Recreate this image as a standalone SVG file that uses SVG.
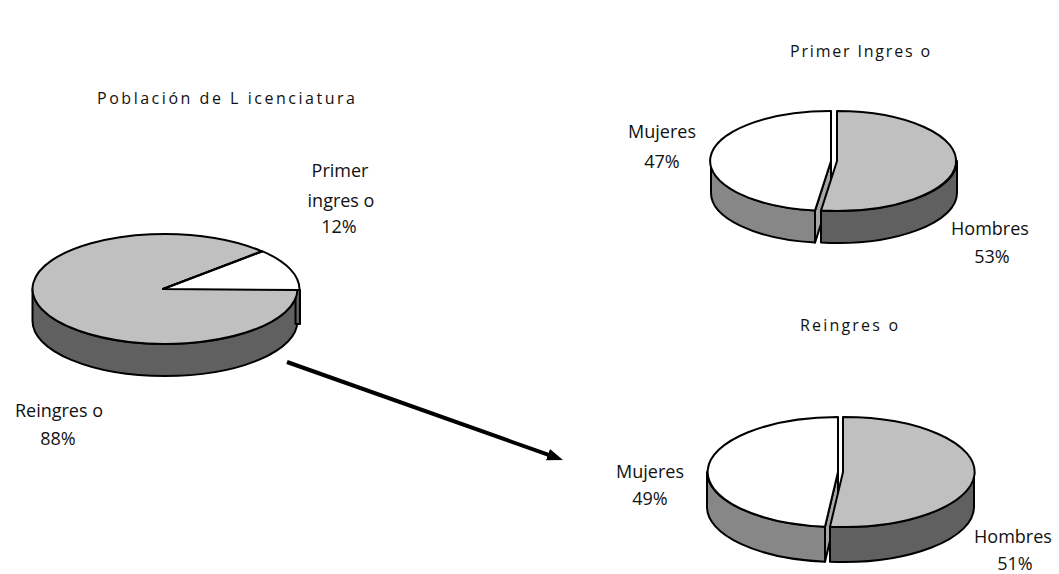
<svg xmlns="http://www.w3.org/2000/svg" width="1059" height="574" viewBox="0 0 1059 574">
<style>
text{font-family:"Open Sans","Noto Sans","DejaVu Sans",sans-serif;font-size:18px;fill:#111;text-anchor:middle}
.title{font-size:16px;text-anchor:start}
.pie path,.pie rect{stroke:#000;stroke-width:2;stroke-linejoin:round}
.g{fill:#c0c0c0}.w{fill:#fff}.ds{fill:#606060}.ms{fill:#878787}.cut{fill:#a6a6a6}
</style>
<defs>
<marker id="ah" markerUnits="userSpaceOnUse" viewBox="0 0 16 12" refX="6" refY="6" markerWidth="16" markerHeight="12" orient="auto">
<polygon points="0,0 16,6 0,12" fill="#000"/>
</marker>
</defs>
<g id="title-left"><text class="title" x="97" y="104" textLength="258" lengthAdjust="spacing">Población de L icenciatura</text></g>
<g id="title-top"><text class="title" x="790" y="57" textLength="140" lengthAdjust="spacing">Primer Ingres o</text></g>
<g id="title-bottom"><text class="title" x="800" y="331" textLength="98" lengthAdjust="spacing">Reingres o</text></g>
<g id="pie-left" class="pie">
<path class="ds" d="M32.5,289 A132.5,55 0 0 0 297.5,289 L297.5,321 A132.5,55 0 0 1 32.5,321 Z"/>
<rect class="ds" x="295.5" y="290" width="4.5" height="34"/>
<path class="g" d="M163,289 L261.6,251.3 A132.5,55 0 1 0 297.5,289 Z"/>
<path class="w" d="M163,289 L299.5,290 A132.5,55 0 0 0 262.6,251.3 Z"/>
<path d="M163,289 L262.6,251.3" fill="none" stroke-width="3.4"/>
</g>
<g id="label-primer-ingreso"><text x="340" y="177">Primer</text><text x="341" y="207">ingres o</text><text x="339" y="233">12%</text></g>
<g id="label-reingreso"><text x="59" y="417">Reingres o</text><text x="58" y="445">88%</text></g>
<g id="pie-top" class="pie">
<path class="ms" d="M815,210.6 A120,50 0 0 1 711,161 L711,193 A120,50 0 0 0 815,242.6 Z"/>
<path class="cut" d="M831,161 L815,210.6 L815,242.6 L831,193 Z"/>
<path class="ds" d="M957,161 A120,50 0 0 1 821,210.6 L821,242.6 A120,50 0 0 0 957,193 Z"/>
<path class="g" d="M837,161 L837,111 A120,50 0 1 1 821,210.6 Z"/>
<path class="w" d="M831,161 L815,210.6 A120,50 0 0 1 831,111 Z"/>
</g>
<g id="label-top-mujeres"><text x="662" y="138">Mujeres</text><text x="662" y="168">47%</text></g>
<g id="label-top-hombres"><text x="990" y="235">Hombres</text><text x="992" y="263">53%</text></g>
<g id="pie-bottom" class="pie">
<path class="ms" d="M825,526.7 A131,55 0 0 1 707,472 L707,507 A131,55 0 0 0 825,561.7 Z"/>
<path class="cut" d="M838,472 L825,526.7 L825,561.7 L838,507 Z"/>
<path class="ds" d="M974,472 A131,55 0 0 1 830,526.7 L830,561.7 A131,55 0 0 0 974,507 Z"/>
<path class="g" d="M843,472 L843,417 A131,55 0 1 1 830,526.7 Z"/>
<path class="w" d="M838,472 L825,526.7 A131,55 0 0 1 838,417 Z"/>
</g>
<g id="label-bottom-mujeres"><text x="650" y="478">Mujeres</text><text x="650" y="505">49%</text></g>
<g id="label-bottom-hombres"><text x="1013" y="543">Hombres</text><text x="1015" y="570">51%</text></g>
<g id="connectors">
<line x1="287" y1="362" x2="553.6" y2="456.7" stroke="#000" stroke-width="4" marker-end="url(#ah)"/>
</g>
</svg>
